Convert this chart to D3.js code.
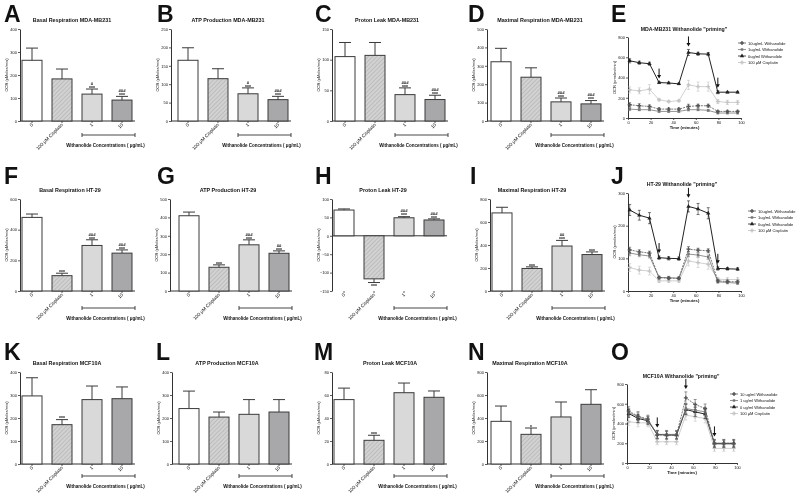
<!DOCTYPE html>
<html><head><meta charset="utf-8">
<script src="https://cdn.jsdelivr.net/npm/d3@7"></script>
<style>
body{margin:0;background:#fff}
svg{will-change:transform}
text{font-family:"Liberation Sans",Arial,sans-serif;fill:#111}
</style>
</head><body>
<svg id="c" width="800" height="494"></svg>
<script>
// ---------------- DATA ----------------
const categories = ["0", "100 μM Cisplatin", "1", "10"];
const bracketText = "Withanolide Concentrations (    μg/mL)";

// Row 1: MDA-MB231
const basalMDA = [264, 183, 117, 91];
const basalMDAErr = [53, 43, 22, 16];
const basalMDASigHash = ["", "", "#", "###"];
const basalMDASigStar = ["", "", "***", "***"];

const atpMDA = [165, 115, 74, 58];
const atpMDAErr = [34, 27, 16, 9];
const atpMDASigHash = ["", "", "#", "###"];
const atpMDASigStar = ["", "", "***", "***"];

const leakMDA = [105, 107, 43, 35];
const leakMDAErr = [23, 21, 11, 7];
const leakMDASigHash = ["", "", "###", "###"];
const leakMDASigStar = ["", "", "***", "***"];

const maxMDA = [322, 238, 104, 93];
const maxMDAErr = [73, 51, 21, 18];
const maxMDASigHash = ["", "", "###", "###"];
const maxMDASigStar = ["", "", "***", "***"];

// Row 2: HT-29
const basalHT = [480, 100, 297, 247];
const basalHTErr = [22, 16, 37, 21];
const basalHTSigHash = ["", "", "###", "###"];
const basalHTSigStar = ["", "***", "***", "***"];

const atpHT = [409, 129, 251, 205];
const atpHTErr = [20, 13, 27, 13];
const atpHTSigHash = ["", "", "###", "##"];
const atpHTSigStar = ["", "***", "***", "***"];

const leakHT = [70, -117, 49, 43];
const leakHTErr = [3, 10, 3, 3];
const leakHTSigHash = ["", "", "###", "###"];
const leakHTSigStar = ["", "***", "***", "***"];

const maxHT = [679, 196, 391, 317];
const maxHTErr = [49, 14, 49, 23];
const maxHTSigHash = ["", "", "##", ""];
const maxHTSigStar = ["", "***", "***", "***"];

// Row 3: MCF10A
const basalMCF = [296, 171, 280, 284];
const basalMCFErr = [79, 22, 59, 51];
const basalMCFSigHash = ["", "", "", ""];
const basalMCFSigStar = ["", "***", "", ""];

const atpMCF = [241, 204, 216, 226];
const atpMCFErr = [76, 22, 64, 54];
const atpMCFSigHash = ["", "", "", ""];
const atpMCFSigStar = ["", "", "", ""];

const leakMCF = [56, 20.6, 62, 58];
const leakMCFErr = [10, 4.4, 8.4, 5.5];
const leakMCFSigHash = ["", "", "", ""];
const leakMCFSigStar = ["", "***", "", ""];

const maxMCF = [371, 258, 409, 519];
const maxMCFErr = [133, 55, 130, 127];
const maxMCFSigHash = ["", "", "", ""];
const maxMCFSigStar = ["", "*", "", ""];

// Time courses
const timePoints = [1.5, 10, 19, 27.5, 36, 45, 53.5, 62, 71, 79.5, 88, 97];
const injectionTimes = [27.5, 53.5, 79.5];
const timeTicks = [0, 20, 40, 60, 80, 100];

const mda10 = [131, 121, 114, 88, 88, 88, 114, 121, 121, 65, 65, 65];
const mda10Err = [20, 20, 15, 10, 10, 10, 22, 15, 15, 10, 10, 10];
const mda1 = [88, 82, 82, 65, 65, 65, 82, 82, 75, 49, 49, 49];
const mda1Err = [15, 10, 10, 10, 10, 10, 12, 10, 10, 8, 8, 8];
const mda0 = [565, 546, 536, 350, 346, 337, 647, 634, 631, 255, 255, 255];
const mda0Err = [20, 15, 15, 10, 8, 8, 30, 15, 15, 15, 8, 8];
const mdaCis = [278, 268, 284, 180, 163, 170, 327, 310, 310, 163, 154, 154];
const mdaCisErr = [30, 30, 45, 12, 10, 10, 45, 45, 45, 20, 20, 20];

const ht10 = [126, 120, 116, 41, 39, 39, 128, 125, 123, 31, 29, 28];
const ht10Err = [8, 6, 6, 4, 4, 4, 8, 6, 6, 4, 4, 4];
const ht1 = [116, 111, 107, 41, 41, 39, 113, 110, 104, 28, 26, 24];
const ht1Err = [8, 6, 6, 4, 4, 4, 8, 6, 6, 4, 4, 4];
const ht0 = [248, 232, 223, 102, 100, 99, 259, 251, 238, 69, 68, 67];
const ht0Err = [17, 15, 17, 5, 5, 5, 17, 17, 17, 5, 4, 4];
const htCis = [72, 64, 61, 31, 31, 31, 92, 87, 82, 36, 35, 35];
const htCisErr = [12, 12, 12, 5, 5, 5, 15, 15, 15, 6, 6, 6];

const mcf10 = [525, 475, 444, 283, 283, 283, 660, 593, 552, 199, 199, 199];
const mcf10Err = [45, 45, 40, 40, 40, 40, 60, 50, 45, 40, 40, 40];
const mcf1 = [512, 468, 434, 290, 290, 290, 552, 535, 518, 192, 192, 192];
const mcf1Err = [40, 40, 40, 40, 40, 40, 50, 40, 40, 35, 35, 35];
const mcf0 = [502, 451, 428, 290, 283, 283, 542, 518, 495, 199, 199, 199];
const mcf0Err = [40, 40, 40, 40, 40, 40, 50, 45, 45, 35, 35, 35];
const mcfCis = [418, 407, 407, 215, 215, 215, 485, 468, 451, 148, 148, 148];
const mcfCisErr = [40, 40, 40, 30, 30, 30, 50, 45, 45, 30, 30, 30];

// ---------------- DRAWING ----------------
const svg = d3.select("#c");
const defs = svg.append("defs");
const pat = defs.append("pattern").attr("id", "hatch").attr("patternUnits", "userSpaceOnUse")
  .attr("width", 3).attr("height", 3).attr("patternTransform", "rotate(45)");
pat.append("rect").attr("width", 3).attr("height", 3).attr("fill", "#d2d2d2");
pat.append("line").attr("x1", 0).attr("y1", 0).attr("x2", 0).attr("y2", 3).attr("stroke", "#9a9a9a").attr("stroke-width", 0.8);

const barFills = ["#ffffff", "url(#hatch)", "#d9d9d9", "#a8a8aa"];
const axisColor = "#333";

function styleAxis(sel) {
  sel.select(".domain").attr("stroke", axisColor).attr("stroke-width", 1);
  sel.selectAll(".tick line").attr("stroke", axisColor).attr("stroke-width", 0.8);
  sel.selectAll(".tick text").attr("font-size", 4).attr("fill", "#111");
}

function panelLetter(letter, x, y) {
  svg.append("text").attr("x", x).attr("y", y).attr("font-size", 23).attr("font-weight", "bold")
    .style("fill", "#111").text(letter);
}

function drawBar(p, title, values, errors, sigHash, sigStar) {
  const g = svg.append("g");
  const x = d3.scaleBand().domain(categories)
    .range([p.barLeft - 5, p.barLeft + 115]).paddingInner(1 / 3).paddingOuter(1 / 6);
  const y = d3.scaleLinear().domain(p.domain).range([p.yBottom, p.yTop]);
  const ticks = d3.range(p.domain[0], p.domain[1] + 0.001, p.step);

  // title
  g.append("text").attr("x", p.titleX).attr("y", p.titleY).attr("text-anchor", "middle")
    .attr("font-size", 5.4).attr("font-weight", "bold").text(title);

  // y axis
  const ya = g.append("g").attr("transform", `translate(${p.axisX},0)`)
    .call(d3.axisLeft(y).tickValues(ticks).tickSize(2).tickSizeOuter(0).tickPadding(1));
  styleAxis(ya);
  g.append("text").attr("transform", `translate(${p.axisX - 12},${(p.yBottom + p.yTop) / 2}) rotate(-90)`)
    .attr("text-anchor", "middle").attr("font-size", 4).text("OCR (pMoles/min)");

  // x axis line at zero
  g.append("line").attr("x1", p.axisX).attr("x2", p.barLeft + 113)
    .attr("y1", y(0)).attr("y2", y(0)).attr("stroke", axisColor).attr("stroke-width", 1);
  // tick marks and rotated labels at the bottom
  categories.forEach(c => {
    const cx = x(c) + x.bandwidth() / 2;
    g.append("line").attr("x1", cx).attr("x2", cx).attr("y1", p.yBottom).attr("y2", p.yBottom + 2)
      .attr("stroke", axisColor).attr("stroke-width", 0.8);
    g.append("text").attr("transform", `translate(${cx + 1.5},${p.yBottom + 4}) rotate(-45)`)
      .attr("text-anchor", "end").attr("font-size", 4.8).attr("fill", "#111").text(c);
  });

  // bars
  values.forEach((v, i) => {
    const c = categories[i];
    const y0 = y(0), yv = y(v);
    g.append("rect").attr("x", x(c)).attr("width", x.bandwidth())
      .attr("y", Math.min(y0, yv)).attr("height", Math.abs(yv - y0))
      .attr("fill", barFills[i]).attr("stroke", "#3a3a3a").attr("stroke-width", 1);
    const cx = x(c) + x.bandwidth() / 2;
    const sign = v >= 0 ? 1 : -1;
    const ye = y(v + sign * errors[i]);
    g.append("line").attr("x1", cx).attr("x2", cx).attr("y1", yv).attr("y2", ye)
      .attr("stroke", "#3a3a3a").attr("stroke-width", 1);
    g.append("line").attr("x1", cx - 6).attr("x2", cx + 6).attr("y1", ye).attr("y2", ye)
      .attr("stroke", "#3a3a3a").attr("stroke-width", 1);
    if (sign > 0) {
      if (sigStar[i]) g.append("text").attr("x", cx).attr("y", ye + 0.8).attr("text-anchor", "middle")
        .attr("font-size", 5).attr("font-weight", "bold").text(sigStar[i]);
      if (sigHash[i]) g.append("text").attr("x", cx).attr("y", ye - 4.2).attr("text-anchor", "middle")
        .attr("font-size", 4.2).attr("font-weight", "bold").text(sigHash[i]);
    } else {
      if (sigStar[i]) g.append("text").attr("x", cx).attr("y", ye + 5).attr("text-anchor", "middle")
        .attr("font-size", 5).attr("font-weight", "bold").text(sigStar[i]);
    }
  });

  // bracket
  const bx1 = x(categories[2]), bx2 = x(categories[3]) + x.bandwidth() + 3;
  g.append("path").attr("d", `M${bx1},${p.bracketY - 2}V${p.bracketY + 2}M${bx1},${p.bracketY}H${bx2}M${bx2},${p.bracketY - 2}V${p.bracketY + 2}`)
    .attr("stroke", "#333").attr("fill", "none").attr("stroke-width", 0.9);
  g.append("text").attr("x", (bx1 + bx2) / 2 - 3).attr("y", p.bracketY + 11.5).attr("text-anchor", "middle")
    .attr("font-size", 4.5).attr("font-weight", "bold").text(bracketText);
}

const symbolMap = {
  cross: d3.symbol().type(d3.symbolCross).size(9),
  square: d3.symbol().type(d3.symbolSquare).size(6),
  triangle: d3.symbol().type(d3.symbolTriangle).size(8)
};

function drawLine(p, title, series) {
  const g = svg.append("g");
  const x = d3.scaleLinear().domain([0, 100]).range([p.x0, p.x1]);
  const y = d3.scaleLinear().domain(p.domain).range([p.yBottom, p.yTop]);
  g.append("text").attr("x", p.titleX).attr("y", p.titleY).attr("text-anchor", "middle")
    .attr("font-size", 5.2).attr("font-weight", "bold").text(title);
  const xa = g.append("g").attr("transform", `translate(0,${p.yBottom})`)
    .call(d3.axisBottom(x).tickValues(timeTicks).tickSize(2).tickSizeOuter(0).tickPadding(1));
  styleAxis(xa);
  const ya = g.append("g").attr("transform", `translate(${p.x0},0)`)
    .call(d3.axisLeft(y).tickValues(p.ticks).tickSize(2).tickSizeOuter(0).tickPadding(1));
  styleAxis(ya);
  g.append("text").attr("x", (p.x0 + p.x1) / 2).attr("y", p.yBottom + 11).attr("text-anchor", "middle")
    .attr("font-size", 4.2).attr("font-weight", "bold").text("Time (minutes)");
  g.append("text").attr("transform", `translate(${p.x0 - 12},${(p.yBottom + p.yTop) / 2}) rotate(-90)`)
    .attr("text-anchor", "middle").attr("font-size", 4).text("OCR (pmoles/min)");

  series.slice().reverse().forEach(s => {
    const pts = timePoints.map((t, i) => ({ t, v: s.values[i], e: s.errors[i] }));
    g.append("g").selectAll("path").data(pts).enter().append("path")
      .attr("d", d => {
        const cx = x(d.t), a = y(d.v + d.e), b = y(d.v - d.e);
        return `M${cx},${a}V${b}M${cx - 1.5},${a}h3M${cx - 1.5},${b}h3`;
      })
      .attr("stroke", s.color).attr("stroke-width", 0.6).attr("fill", "none");
    g.append("path").datum(pts)
      .attr("d", d3.line().x(d => x(d.t)).y(d => y(d.v)))
      .attr("fill", "none").attr("stroke", s.color).attr("stroke-width", s.width)
      .attr("stroke-dasharray", s.dash || null);
    g.append("g").selectAll("path").data(pts).enter().append("path")
      .attr("transform", d => `translate(${x(d.t)},${y(d.v)})`)
      .attr("d", symbolMap[s.symbol]).attr("fill", s.color);
  });

  // arrows at injections
  injectionTimes.forEach(t => {
    const i = timePoints.indexOf(t);
    const top = d3.max(series, s => s.values[i] + s.errors[i]);
    const tip = y(top) - 3;
    const cx = x(t);
    g.append("line").attr("x1", cx).attr("x2", cx).attr("y1", tip - 10).attr("y2", tip - 2)
      .attr("stroke", "#111").attr("stroke-width", 1);
    g.append("path").attr("d", `M${cx - 2},${tip - 3.5}L${cx + 2},${tip - 3.5}L${cx},${tip}Z`).attr("fill", "#111");
  });

  // legend
  series.forEach((s, i) => {
    const ly = p.legendY + i * 6.5;
    g.append("line").attr("x1", p.legendX).attr("x2", p.legendX + 8).attr("y1", ly).attr("y2", ly)
      .attr("stroke", s.color).attr("stroke-width", 0.8).attr("stroke-dasharray", s.dash || null);
    g.append("path").attr("transform", `translate(${p.legendX + 4},${ly})`).attr("d", symbolMap[s.symbol]).attr("fill", s.color);
    g.append("text").attr("x", p.legendX + 10).attr("y", ly + 1.5).attr("font-size", 4).text(s.name);
  });
}

// ---------------- LAYOUT ----------------
const rows = [
  { yBottom: 121, yTop: 29, titleY: 22, bracketY: 135, letterY: 22 },
  { yBottom: 291, yTop: 199, titleY: 192, bracketY: 308, letterY: 184 },
  { yBottom: 464, yTop: 372, titleY: 365, bracketY: 476, letterY: 360 }
];
function L(row, o) { return Object.assign({}, rows[row], o); }

drawBar(L(0, { axisX: 20, barLeft: 22, domain: [0, 400], step: 100, titleX: 72 }), "Basal Respiration  MDA-MB231", basalMDA, basalMDAErr, basalMDASigHash, basalMDASigStar);
drawBar(L(0, { axisX: 171, barLeft: 178, domain: [0, 250], step: 50, titleX: 228 }), "ATP Production  MDA-MB231", atpMDA, atpMDAErr, atpMDASigHash, atpMDASigStar);
drawBar(L(0, { axisX: 332, barLeft: 335, domain: [0, 150], step: 50, titleX: 387 }), "Proton Leak  MDA-MB231", leakMDA, leakMDAErr, leakMDASigHash, leakMDASigStar);
drawBar(L(0, { axisX: 487, barLeft: 491, domain: [0, 500], step: 100, titleX: 540 }), "Maximal Respiration  MDA-MB231", maxMDA, maxMDAErr, maxMDASigHash, maxMDASigStar);

drawBar(L(1, { axisX: 20, barLeft: 22, domain: [0, 600], step: 200, titleX: 70 }), "Basal Respiration HT-29", basalHT, basalHTErr, basalHTSigHash, basalHTSigStar);
drawBar(L(1, { axisX: 170, barLeft: 179, domain: [0, 500], step: 100, titleX: 228 }), "ATP Production HT-29", atpHT, atpHTErr, atpHTSigHash, atpHTSigStar);
drawBar(L(1, { axisX: 332, barLeft: 334, domain: [-150, 100], step: 50, titleX: 383 }), "Proton Leak HT-29", leakHT, leakHTErr, leakHTSigHash, leakHTSigStar);
drawBar(L(1, { axisX: 490, barLeft: 492, domain: [0, 800], step: 200, titleX: 532 }), "Maximal Respiration HT-29", maxHT, maxHTErr, maxHTSigHash, maxHTSigStar);

drawBar(L(2, { axisX: 20, barLeft: 22, domain: [0, 400], step: 100, titleX: 67 }), "Basal Respiration MCF10A", basalMCF, basalMCFErr, basalMCFSigHash, basalMCFSigStar);
drawBar(L(2, { axisX: 172, barLeft: 179, domain: [0, 400], step: 100, titleX: 227 }), "ATP Production MCF10A", atpMCF, atpMCFErr, atpMCFSigHash, atpMCFSigStar);
drawBar(L(2, { axisX: 332, barLeft: 334, domain: [0, 80], step: 20, titleX: 390 }), "Proton Leak MCF10A", leakMCF, leakMCFErr, leakMCFSigHash, leakMCFSigStar);
drawBar(L(2, { axisX: 487, barLeft: 491, domain: [0, 800], step: 200, titleX: 530 }), "Maximal Respiration MCF10A", maxMCF, maxMCFErr, maxMCFSigHash, maxMCFSigStar);

const lineStyles = [
  { color: "#555", width: 0.8, dash: "2,1", symbol: "cross" },
  { color: "#777", width: 0.8, dash: null, symbol: "square" },
  { color: "#222", width: 1, dash: null, symbol: "triangle" },
  { color: "#c4c4c4", width: 0.8, dash: null, symbol: "cross" }
];
function mk(names, vals, errs) {
  return names.map((n, i) => Object.assign({ name: n, values: vals[i], errors: errs[i] }, lineStyles[i]));
}

drawLine({ x0: 628, x1: 741, yBottom: 118, yTop: 37, domain: [0, 800], ticks: [0, 200, 400, 600, 800], titleX: 684, titleY: 31, legendX: 738, legendY: 43 },
  "MDA-MB231 Withanolide \"priming\"",
  mk(["10ug/mL Withanolide", "1ug/mL Withanolide", "0ug/ml Withanolide", "100 μM Cisplatin"],
    [mda10, mda1, mda0, mdaCis], [mda10Err, mda1Err, mda0Err, mdaCisErr]));

drawLine({ x0: 628, x1: 741, yBottom: 291, yTop: 193, domain: [0, 300], ticks: [0, 100, 200, 300], titleX: 682, titleY: 186, legendX: 748, legendY: 211 },
  "HT-29 Withanolide \"priming\"",
  mk(["10ug/mL Withanolide", "1ug/mL Withanolide", "0ug/mL Withanolide", "100 μM Cisplatin"],
    [ht10, ht1, ht0, htCis], [ht10Err, ht1Err, ht0Err, htCisErr]));

drawLine({ x0: 627, x1: 737, yBottom: 463, yTop: 384, domain: [0, 800], ticks: [0, 200, 400, 600, 800], titleX: 681, titleY: 378, legendX: 730, legendY: 394 },
  "MCF10A Withanolide \"priming\"",
  mk(["10 ug/ml Withanolide", "1 ug/ml Withanolide", "0 ug/ml Withanolide", "100 μM Cisplatin"],
    [mcf10, mcf1, mcf0, mcfCis], [mcf10Err, mcf1Err, mcf0Err, mcfCisErr]));

// panel letters
[["A", 4, 0], ["B", 157, 0], ["C", 315, 0], ["D", 468, 0], ["E", 611, 0],
 ["F", 4, 1], ["G", 157, 1], ["H", 315, 1], ["I", 470, 1], ["J", 611, 1],
 ["K", 4, 2], ["L", 156, 2], ["M", 314, 2], ["N", 468, 2], ["O", 611, 2]]
  .forEach(([t, x, r]) => panelLetter(t, x, rows[r].letterY));
</script>
</body></html>
